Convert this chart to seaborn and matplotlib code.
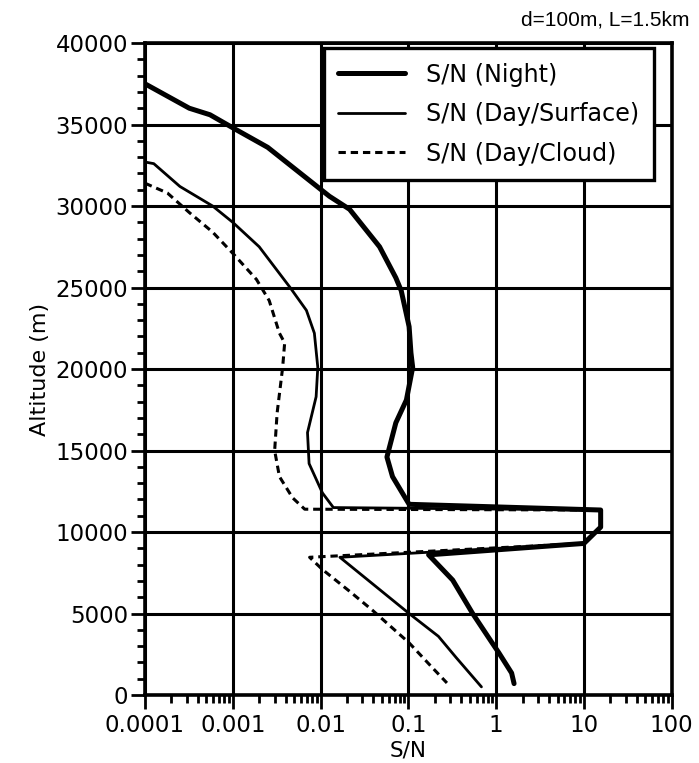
import pandas as pd
import seaborn as sns
import matplotlib.pyplot as plt
import matplotlib.ticker as mticker
import numpy as np

# S/N values (x) and altitudes in m (y)
night_sn = [1e-4, 3.2e-4, 5.5e-4, 1e-3, 2.5e-3, 0.0126, 0.0214, 0.047, 0.072, 0.083, 0.102,
            0.107, 0.112, 0.095, 0.072, 0.057, 0.066, 0.102, 15.5, 15.5, 10.0,
            0.17, 0.32, 0.54, 0.9, 1.07, 1.5, 1.6]
night_alt = [37500, 36000, 35600, 34800, 33600, 30600, 29800, 27500, 25600, 24800, 22600,
             21000, 20100, 18100, 16700, 14600, 13400, 11700, 11350, 10300, 9300,
             8600, 7050, 5000, 3200, 2600, 1350, 700]

surf_sn = [1e-4, 1.26e-4, 2.5e-4, 5.9e-4, 1e-3, 2.0e-3, 4.5e-3, 6.9e-3, 8.5e-3, 9.3e-3,
           8.9e-3, 7.1e-3, 7.4e-3, 1.05e-2, 1.4e-2, 15.5, 15.5, 10.0,
           0.0166, 0.102, 0.22, 0.35, 0.68]
surf_alt = [32700, 32600, 31200, 30000, 29000, 27500, 25000, 23600, 22200, 20100,
            18300, 16100, 14200, 12400, 11500, 11350, 10300, 9300,
            8450, 5000, 3600, 2300, 500]

cloud_sn = [1e-4, 1.8e-4, 3.2e-4, 5.9e-4, 1e-3, 1.86e-3, 2.6e-3, 3.4e-3, 3.9e-3, 3.7e-3,
            3.2e-3, 3.0e-3, 3.4e-3, 4.8e-3, 6.6e-3, 15.5, 15.5, 10.0,
            0.0075, 0.0105, 0.021, 0.039, 0.102, 0.186, 0.275]
cloud_alt = [31400, 30800, 29600, 28400, 27100, 25500, 24200, 22200, 21600, 20100,
             17300, 15000, 13400, 12100, 11400, 11350, 10300, 9300,
             8450, 7700, 6400, 5200, 3200, 1700, 740]

series_order = ['S/N (Night)', 'S/N (Day/Surface)', 'S/N (Day/Cloud)']

df = pd.concat([
    pd.DataFrame({'sn': night_sn, 'alt': night_alt, 'series': series_order[0]}),
    pd.DataFrame({'sn': surf_sn, 'alt': surf_alt, 'series': series_order[1]}),
    pd.DataFrame({'sn': cloud_sn, 'alt': cloud_alt, 'series': series_order[2]}),
])

sns.set_style('white')
plt.rcParams['font.family'] = ['DejaVu Sans']
plt.rcParams['text.color'] = 'black'
plt.rcParams['axes.labelcolor'] = 'black'

fig = plt.figure(figsize=(6.99, 7.63), dpi=100)
ax = fig.add_axes([0.2074, 0.0891, 0.7536, 0.8545])

styles = {
    'S/N (Night)': dict(lw=3.6, ls='-'),
    'S/N (Day/Surface)': dict(lw=2.0, ls='-'),
    'S/N (Day/Cloud)': dict(lw=2.2, ls=(0, (2.4, 1.6))),
}
for name in reversed(series_order):
    sub = df[df['series'] == name]
    sns.lineplot(data=sub, x='sn', y='alt', sort=False, estimator=None, color='black',
                 linewidth=styles[name]['lw'], linestyle=styles[name]['ls'],
                 label=name, ax=ax, zorder=3)

ax.set_xscale('log')
ax.set_xlim(1e-4, 100)
ax.set_ylim(0, 40000)

ax.set_xticks([1e-4, 1e-3, 1e-2, 1e-1, 1, 10, 100])
ax.set_xticklabels(['0.0001', '0.001', '0.01', '0.1', '1', '10', '100'])
ax.xaxis.set_minor_locator(mticker.LogLocator(base=10, subs=np.arange(2, 10), numticks=20))
ax.xaxis.set_minor_formatter(mticker.NullFormatter())
ax.set_yticks(np.arange(0, 40001, 5000))
ax.yaxis.set_minor_locator(mticker.MultipleLocator(1000))

ax.grid(True, which='major', color='black', linewidth=2.2)
ax.set_axisbelow(True)
for sp in ax.spines.values():
    sp.set_linewidth(2.6)
    sp.set_color('black')

ax.tick_params(axis='both', which='both', left=True, bottom=True, top=False, right=False)
ax.tick_params(axis='both', which='major', direction='out', length=10, width=2,
               labelsize=16.5, colors='black', pad=2)
ax.tick_params(axis='both', which='minor', direction='out', length=6, width=2, colors='black')
ax.tick_params(axis='x', which='major', pad=4)

ax.set_xlabel('S/N', fontsize=15.5, labelpad=2)
ax.set_ylabel('Altitude (m)', fontsize=16,
              family=['Liberation Sans Narrow', 'DejaVu Sans'], labelpad=4)

# legend in the reference order
handles, labels = ax.get_legend_handles_labels()
order = [labels.index(n) for n in series_order]
leg = ax.legend([handles[i] for i in order], [labels[i] for i in order],
                loc='upper right', bbox_to_anchor=(0.966, 0.992), fontsize=17.2,
                frameon=True, fancybox=False, framealpha=1, edgecolor='black',
                handlelength=2.8, handletextpad=0.9, labelspacing=0.65,
                borderpad=0.6, borderaxespad=0)
leg.get_frame().set_linewidth(2.4)
leg.set_zorder(5)

fig.text(0.987, 0.974, 'd=100m, L=1.5km', ha='right', va='center', fontsize=15,
         family=['Liberation Sans', 'DejaVu Sans'])

fig.savefig('out.png', dpi=100)
